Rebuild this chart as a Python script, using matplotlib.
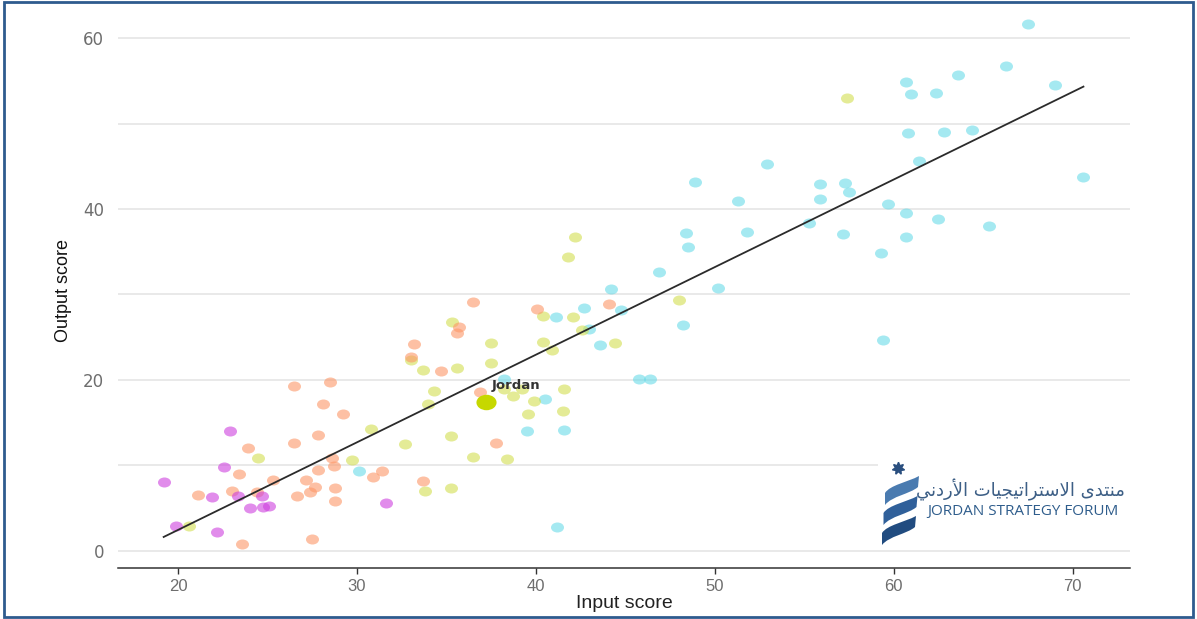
import numpy as np
import matplotlib.pyplot as plt
from matplotlib.path import Path
from matplotlib.patches import Rectangle, PathPatch

# Puntos por grupo (input score, output score)
cyan_x = [67.5, 60.7, 60.95, 62.35, 63.6, 66.3, 69.0, 60.8, 62.8, 64.4, 61.4, 52.9,
          70.6, 48.9, 55.9, 57.3, 57.5, 51.3, 55.9, 59.7, 60.7, 62.5, 65.3, 55.25,
          48.4, 51.8, 57.15, 60.7, 48.5, 59.3, 46.9, 44.2, 50.2, 42.7, 44.75, 41.1,
          42.95, 43.6, 48.2, 59.4, 45.75, 46.4, 40.5, 38.2, 39.5, 41.6, 41.2, 30.1]
cyan_y = [61.6, 54.9, 53.5, 53.6, 55.7, 56.7, 54.5, 48.9, 49.0, 49.2, 45.6, 45.3,
          43.7, 43.2, 42.9, 43.0, 42.0, 40.9, 41.2, 40.6, 39.5, 38.8, 38.0, 38.4,
          37.2, 37.3, 37.1, 36.7, 35.6, 34.9, 32.6, 30.6, 30.8, 28.4, 28.2, 27.4,
          26.0, 24.1, 26.4, 24.7, 20.1, 20.1, 17.8, 20.1, 14.0, 14.2, 2.8, 9.4]

orange_x = [36.5, 40.05, 44.1, 35.7, 35.6, 33.2, 33.0, 34.7, 36.9, 37.8, 33.7, 26.5,
            28.5, 28.1, 29.2, 23.9, 26.5, 27.8, 23.4, 28.6, 28.7, 27.8, 31.4, 30.9,
            25.3, 27.15, 27.65, 27.4, 28.8, 21.1, 23.0, 24.4, 26.65, 28.8, 23.6, 27.5]
orange_y = [29.1, 28.3, 28.9, 26.2, 25.5, 24.2, 22.7, 21.1, 18.6, 12.6, 8.2, 19.3,
            19.8, 17.2, 16.0, 12.0, 12.6, 13.6, 9.0, 10.9, 9.9, 9.5, 9.4, 8.7,
            8.3, 8.3, 7.5, 6.9, 7.3, 6.5, 7.0, 6.9, 6.4, 5.8, 0.8, 1.4]

yellow_x = [57.4, 42.2, 41.8, 48.0, 40.4, 42.1, 42.6, 44.4, 40.4, 40.9, 35.3, 37.5,
            33.0, 33.7, 35.6, 37.5, 38.2, 39.2, 38.7, 39.9, 41.6, 39.55, 41.5, 34.3,
            34.0, 32.7, 35.25, 36.5, 38.4, 33.8, 35.25, 30.8, 29.7, 24.5, 20.6]
yellow_y = [53.0, 36.7, 34.4, 29.4, 27.5, 27.4, 25.8, 24.3, 24.4, 23.5, 26.8, 24.3,
            22.3, 21.2, 21.4, 22.0, 18.9, 18.9, 18.1, 17.5, 18.9, 16.0, 16.4, 18.7,
            17.2, 12.5, 13.5, 11.0, 10.8, 7.0, 7.4, 14.3, 10.6, 10.9, 2.9]

magenta_x = [19.2, 19.9, 21.9, 22.2, 22.6, 22.9, 23.35, 24.0, 24.7, 24.75, 25.1, 31.6]
magenta_y = [8.1, 2.9, 6.3, 2.2, 9.8, 14.0, 6.4, 5.0, 6.4, 5.1, 5.3, 5.6]

jordan_x = [37.2]
jordan_y = [17.4]

# recta de tendencia
fit_slope = 1.025
fit_intercept = -18.05

x_ticks = [20, 30, 40, 50, 60, 70]
y_ticks = [0, 20, 40, 60]
y_grid = [0, 10, 20, 30, 40, 50, 60]

narrow = ['Liberation Sans Narrow', 'Liberation Sans', 'DejaVu Sans']

fig = plt.figure(figsize=(11.97, 6.19), dpi=100)
ax = fig.add_axes([0.0986, 0.0824, 0.8454, 0.8976])

# marcador elíptico (los puntos del original son algo más anchos que altos)
circ = Path.unit_circle()
ellipse = Path(circ.vertices * np.array([1.3, 1.0]), circ.codes)

for y in y_grid:
    ax.axhline(y, color='#e3e3e3', lw=1.1, zorder=0)

ax.scatter(cyan_x, cyan_y, s=88, marker=ellipse, color='#6adbe8', alpha=0.6, linewidths=0, zorder=2)
ax.scatter(yellow_x, yellow_y, s=88, marker=ellipse, color='#d2df50', alpha=0.6, linewidths=0, zorder=2)
ax.scatter(orange_x, orange_y, s=88, marker=ellipse, color='#fd9767', alpha=0.6, linewidths=0, zorder=2)
ax.scatter(magenta_x, magenta_y, s=88, marker=ellipse, color='#cd3fde', alpha=0.6, linewidths=0, zorder=2)
ax.scatter(jordan_x, jordan_y, s=210, marker=ellipse, color='#c6d800', linewidths=0, zorder=4)

all_x = cyan_x + orange_x + yellow_x + magenta_x
xs = np.array([min(all_x), max(all_x)])
ax.plot(xs, fit_slope * xs + fit_intercept, color='#2b2b2b', lw=1.3, zorder=3)

ax.text(jordan_x[0] + 1.7, jordan_y[0] + 2.0, 'Jordan', fontsize=9.5, fontweight='bold',
        color='#333333', ha='center', va='center', zorder=5)

ax.set_xlim(16.65, 73.2)
ax.set_ylim(-2.0, 63.0)
ax.set_xticks(x_ticks)
ax.set_yticks(y_ticks)
for s in ['top', 'right', 'left']:
    ax.spines[s].set_visible(False)
ax.spines['bottom'].set_color('#333333')
ax.spines['bottom'].set_linewidth(1.1)
ax.tick_params(axis='y', length=0, pad=10, labelsize=12, labelcolor='#6e6e6e')
ax.tick_params(axis='x', length=4, width=1, color='#333333', pad=4, labelsize=12, labelcolor='#6e6e6e')
for lab in ax.get_xticklabels():
    lab.set_family(narrow)
ax.set_xlabel('Input score', fontsize=14, color='#222222', family=narrow, labelpad=1)
ax.set_ylabel('Output score', fontsize=13, color='#111111', family=narrow, labelpad=8)

# logo Jordan Strategy Forum
lg = fig.add_axes([878 / 1197, 1 - 550 / 619, 252 / 1197, 98 / 619])
lg.set_xlim(0, 252)
lg.set_ylim(98, 0)
lg.axis('off')
lg.add_patch(Rectangle((0, 0), 252, 98, color='white', zorder=0))
lg.plot([20], [16], marker=(7, 1, 0), markersize=9, color='#2a4f7f', zorder=2)
band_colors = ['#4a7bb0', '#30609a', '#214c80']
for k in range(3):
    dy = 24 + 20 * k
    dx = -1.5 * k
    verts = [(41 + dx, dy), (30 + dx, dy + 6), (12 + dx, dy + 9), (7 + dx, dy + 17),
             (7 + dx, dy + 29), (14 + dx, dy + 20), (32 + dx, dy + 18), (40 + dx, dy + 11),
             (41 + dx, dy)]
    codes = [Path.MOVETO, Path.CURVE4, Path.CURVE4, Path.CURVE4, Path.LINETO,
             Path.CURVE4, Path.CURVE4, Path.CURVE4, Path.CLOSEPOLY]
    lg.add_patch(PathPatch(Path(verts, codes), facecolor=band_colors[k], edgecolor='none', zorder=2))

# texto árabe ya en formas de presentación y en orden visual
w1 = [0xFEE3, 0xFEE8, 0xFE98, 0xFEAA, 0xFEEF]
w2 = [0xFE8D, 0xFEFB, 0xFEB3, 0xFE98, 0xFEAE, 0xFE8D, 0xFE97, 0xFEF4, 0xFEA0, 0xFEF4, 0xFE8E, 0xFE95]
w3 = [0xFE8D, 0xFEF7, 0xFEAD, 0xFEA9, 0xFEE7, 0xFEF2]
arabic = ' '.join(''.join(chr(c) for c in reversed(w)) for w in [w3, w2, w1])
lg.text(247, 38, arabic, fontsize=13, color='#3d5f86', ha='right', va='center', family=['DejaVu Sans'])
lg.text(49, 59, 'JORDAN STRATEGY FORUM', fontsize=11, color='#2f5d8c', ha='left', va='center',
        family=['Open Sans', 'DejaVu Sans'])

# marco azul alrededor de la figura
fig.patches.append(Rectangle((0.003, 0.004), 0.994, 0.992, transform=fig.transFigure,
                             fill=False, edgecolor='#2e5b8e', lw=2))

fig.savefig('out.png', dpi=100)
